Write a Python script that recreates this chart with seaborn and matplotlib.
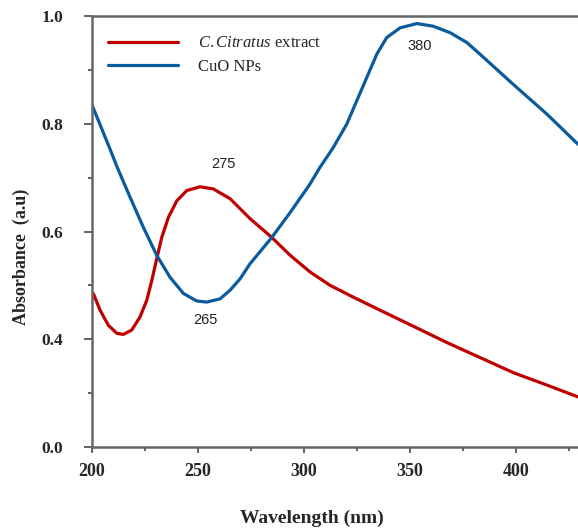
import numpy as np
import pandas as pd
import matplotlib
matplotlib.use("Agg")
import matplotlib.pyplot as plt
import seaborn as sns
from matplotlib.ticker import FixedLocator, MultipleLocator

# C. Citratus extract spectrum
red_wl = [200.6, 203.8, 207.7, 211.7, 214.8, 218.7, 222.6, 225.8, 228.2, 230.5,
          232.9, 236.0, 240.0, 244.7, 250.9, 257.2, 265.1, 274.5, 284.8, 293.4,
          302.8, 312.3, 323.3, 335.8, 351.6, 367.3, 383.0, 398.7, 414.5, 429.2]
red_abs = [0.485, 0.454, 0.426, 0.411, 0.409, 0.417, 0.441, 0.472, 0.509, 0.549,
           0.589, 0.626, 0.657, 0.676, 0.683, 0.679, 0.661, 0.624, 0.589, 0.556,
           0.525, 0.500, 0.478, 0.454, 0.424, 0.394, 0.366, 0.338, 0.315, 0.293]

# CuO NPs spectrum
blue_wl = [200.0, 208.5, 211.7, 217.9, 224.2, 230.5, 236.8, 243.1, 249.4, 254.1,
           260.4, 265.1, 269.8, 274.5, 284.8, 293.4, 302.8, 307.5, 313.8, 320.1,
           324.9, 329.6, 334.3, 339.0, 345.3, 353.2, 361.0, 368.9, 376.7, 383.0,
           398.7, 414.5, 429.2]
blue_abs = [0.835, 0.753, 0.721, 0.664, 0.608, 0.556, 0.515, 0.485, 0.471, 0.469,
            0.475, 0.491, 0.512, 0.540, 0.589, 0.635, 0.688, 0.719, 0.756, 0.799,
            0.843, 0.886, 0.929, 0.960, 0.978, 0.986, 0.981, 0.969, 0.951, 0.929,
            0.873, 0.818, 0.762]

series_names = ["C. Citratus extract", "CuO NPs"]
legend_labels = [r"$\it{C.Citratus}$ extract", "CuO NPs"]
ytick_vals = [0.2, 0.4, 0.6, 0.8, 1.0]
ytick_labels = ["0.0", "0.4", "0.6", "0.8", "1.0"]
xtick_vals = [200, 250, 300, 350, 400]
peak_labels = ["275", "265", "380"]
peak_pos = [(261.9, 0.725), (253.3, 0.435), (354.7, 0.944)]

df = pd.concat([
    pd.DataFrame({"wl": red_wl, "abs": red_abs, "sample": series_names[0]}),
    pd.DataFrame({"wl": blue_wl, "abs": blue_abs, "sample": series_names[1]}),
])

sns.set_style("ticks")
plt.rcParams["font.family"] = ["Liberation Serif", "DejaVu Serif"]
plt.rcParams["mathtext.fontset"] = "custom"
plt.rcParams["mathtext.it"] = "Liberation Serif:italic"
plt.rcParams["mathtext.rm"] = "Liberation Serif"

fig = plt.figure(figsize=(5.78, 5.30), dpi=100)
ax = fig.add_axes([92 / 578, 1 - 447 / 530, 1 - 92 / 578, 431 / 530])

sns.lineplot(data=df, x="wl", y="abs", hue="sample", palette=["#c00000", "#0a5a9e"],
             linewidth=2.3, estimator=None, ax=ax)
for line in ax.get_lines():
    line.set_solid_joinstyle("round")
    line.set_solid_capstyle("round")

ax.set_xlim(200, 429.2)
ax.set_ylim(0.2, 1.0)
ax.yaxis.set_major_locator(FixedLocator(ytick_vals))
ax.set_yticklabels(ytick_labels)
ax.yaxis.set_minor_locator(MultipleLocator(0.1))
ax.xaxis.set_major_locator(FixedLocator(xtick_vals))
ax.xaxis.set_minor_locator(MultipleLocator(25))

for lab in ax.get_xticklabels() + ax.get_yticklabels():
    lab.set_fontweight("bold")
ax.tick_params(axis="y", which="major", direction="out", length=6, width=1.3,
               color="#555555", labelsize=12.5, pad=15)
ax.tick_params(axis="x", which="major", direction="out", length=4.5, width=1.3,
               color="#555555", labelsize=13, pad=7)
ax.tick_params(which="minor", direction="out", length=3, width=1.3, color="#555555")

for side in ["left", "top", "bottom"]:
    ax.spines[side].set_color("#666666")
    ax.spines[side].set_linewidth(1.8)
ax.spines["right"].set_visible(False)

ax.set_xlabel("Wavelength (nm)", fontsize=14, fontweight="bold")
ax.set_ylabel("Absorbance  (a.u)", fontsize=13, fontweight="bold")
ax.xaxis.set_label_coords((312 - 92) / 486, -0.145)
ax.yaxis.set_label_coords(-0.128, 0.44)

for txt, (x, y) in zip(peak_labels, peak_pos):
    ax.text(x, y, txt, ha="center", va="center", fontsize=10.5,
            family=["Liberation Sans", "DejaVu Sans"], color="#222222")

handles, _ = ax.get_legend_handles_labels()
ax.legend(handles, legend_labels, loc="upper left", bbox_to_anchor=(0.033, 0.955),
          frameon=False, fontsize=12, handlelength=4.2, handletextpad=1.2,
          labelspacing=0.45, borderpad=0, borderaxespad=0)

fig.savefig("out.png", dpi=100)
